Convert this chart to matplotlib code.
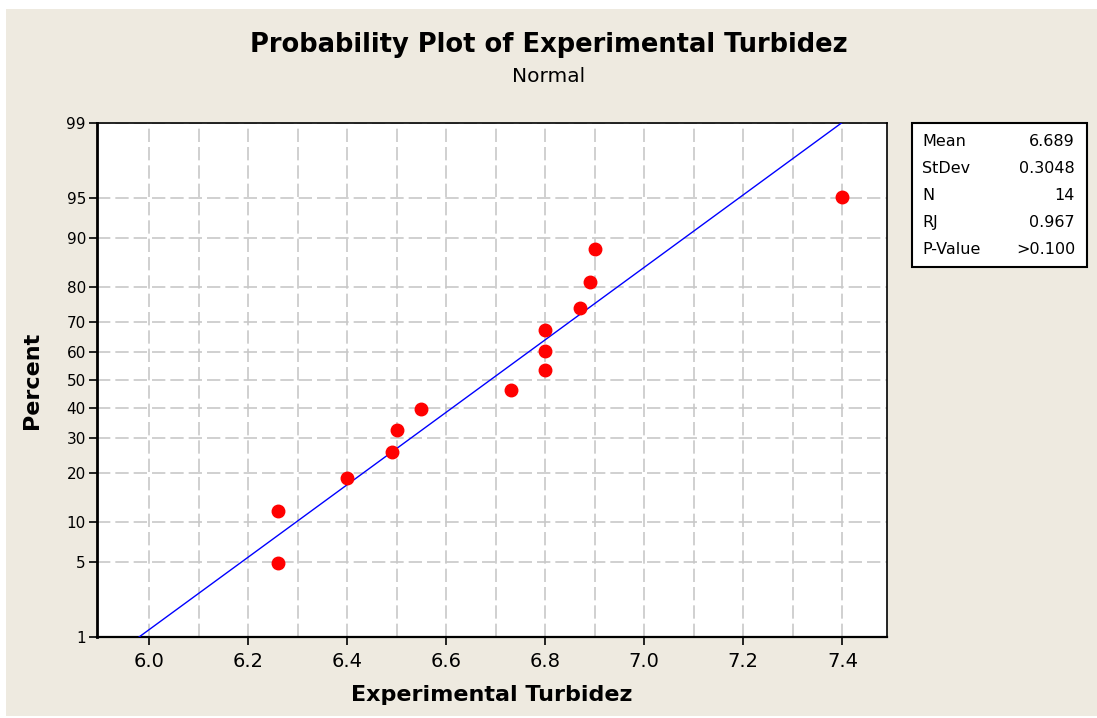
import matplotlib
matplotlib.use("Agg")
import matplotlib.pyplot as plt
from matplotlib.patches import Rectangle
from matplotlib.ticker import FixedLocator
from statistics import NormalDist
import numpy as np

# data
turbidez = [6.26, 6.26, 6.40, 6.49, 6.50, 6.55, 6.73, 6.80, 6.80, 6.80, 6.87, 6.89, 6.90, 7.40]
mean = 6.689
stdev = 0.3048
stat_names = ["Mean", "StDev", "N", "RJ", "P-Value"]
stat_values = ["6.689", "0.3048", "14", "0.967", ">0.100"]
pct_ticks = [1, 5, 10, 20, 30, 40, 50, 60, 70, 80, 90, 95, 99]
x_ticks = [6.0, 6.2, 6.4, 6.6, 6.8, 7.0, 7.2, 7.4]
x_minor = [6.1, 6.3, 6.5, 6.7, 6.9, 7.1, 7.3]

nd = NormalDist()
def z(p):
    return nd.inv_cdf(p / 100.0)

n = len(turbidez)
# median ranks (Benard) as used by Minitab
ranks = [(i + 1 - 0.3) / (n + 0.4) * 100 for i in range(n)]

plt.rcParams['font.family'] = ['DejaVu Sans']
bg = "#eeeae0"

fig = plt.figure(figsize=(10.97, 7.18), dpi=100, facecolor="white")
fig.patches.append(Rectangle((6 / 1097, 0.003), 1, 1 - 9 / 718 - 0.003, transform=fig.transFigure,
                             facecolor=bg, edgecolor="none", zorder=-10))

ax = fig.add_axes([97 / 1097, 1 - 637 / 718, 790 / 1097, 514 / 718])
ax.set_facecolor("white")

# fitted line, 1% to 99%
zline = np.array([z(1), z(99)])
ax.plot(mean + stdev * zline, zline, color="#0000ff", lw=1, zorder=3)
ax.plot(turbidez, [z(r) for r in ranks], "o", color="#ff0000", ms=9, mec="#ff0000", zorder=4)

ax.set_xlim(5.895, 7.49)
ax.set_ylim(z(1), z(99))
ax.xaxis.set_major_locator(FixedLocator(x_ticks))
ax.xaxis.set_minor_locator(FixedLocator(x_minor))
ax.set_xticklabels([f"{v:.1f}" for v in x_ticks])
ax.set_yticks([z(p) for p in pct_ticks])
ax.set_yticklabels([str(p) for p in pct_ticks])

ax.grid(True, which="both", axis="x", color="#c8c8c8", ls=(0, (8, 3)), lw=1.2)
ax.grid(True, which="major", axis="y", color="#c8c8c8", ls=(0, (8, 3)), lw=1.2)
ax.set_axisbelow(True)
ax.tick_params(axis="x", which="major", direction="out", length=6, width=1.2, labelsize=14, pad=5)
ax.tick_params(axis="x", which="minor", length=0)
ax.tick_params(axis="y", direction="out", length=6, width=1.2, labelsize=11, pad=2)

for s in ax.spines.values():
    s.set_linewidth(1.2)
ax.spines["left"].set_linewidth(2)
ax.spines["bottom"].set_linewidth(1.6)

ax.set_xlabel("Experimental Turbidez", fontsize=16, fontweight="bold")
ax.xaxis.set_label_coords(0.5, -0.093)
ax.set_ylabel("Percent", fontsize=16, fontweight="bold")
ax.yaxis.set_label_coords(-0.069, 0.5)

fig.text(0.5, 1 - 45 / 718, "Probability Plot of Experimental Turbidez", ha="center", va="center",
         fontsize=18.5, fontweight="bold")
fig.text(0.5, 1 - 77 / 718, "Normal", ha="center", va="center", fontsize=14.5)

# stats box
bx0, bx1 = 912 / 1097, 1087 / 1097
by0, by1 = 1 - 267 / 718, 1 - 123 / 718
fig.patches.append(Rectangle((bx0, by0), bx1 - bx0, by1 - by0, transform=fig.transFigure,
                             facecolor="white", edgecolor="black", lw=1.5))
for i, (name, val) in enumerate(zip(stat_names, stat_values)):
    yy = 1 - (141 + 27.2 * i) / 718
    fig.text(922 / 1097, yy, name, ha="left", va="center", fontsize=11.5)
    fig.text(1075 / 1097, yy, val, ha="right", va="center", fontsize=11.5)

fig.savefig("out.png", dpi=100, facecolor=fig.get_facecolor())
